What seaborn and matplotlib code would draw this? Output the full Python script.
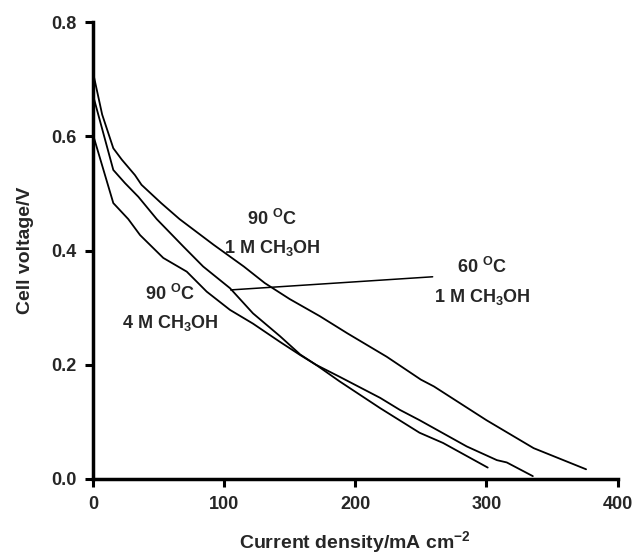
import numpy as np
import pandas as pd
import matplotlib
matplotlib.use("Agg")
import matplotlib.pyplot as plt
import seaborn as sns

# ── Data ────────────────────────────────────────────────────
# 90 °C, 1 M CH3OH (upper curve)
x_90_1m = [0, 7, 15.5, 22, 32, 37, 52, 66, 92, 115, 131, 150, 173, 194, 224, 250, 260, 300, 336, 376]
v_90_1m = [0.712, 0.638, 0.579, 0.559, 0.532, 0.515, 0.483, 0.455, 0.410, 0.372, 0.343, 0.315,
           0.285, 0.255, 0.214, 0.174, 0.162, 0.103, 0.054, 0.017]

# 60 °C, 1 M CH3OH (middle start, ends at 300)
x_60_1m = [0, 15.5, 24.4, 34.6, 48.6, 68.9, 84, 104.5, 122, 142.6, 158, 170, 188, 219, 249, 267, 301]
v_60_1m = [0.672, 0.541, 0.518, 0.494, 0.455, 0.407, 0.372, 0.334, 0.290, 0.250, 0.218, 0.200,
           0.171, 0.124, 0.081, 0.063, 0.020]

# 90 °C, 4 M CH3OH (lowest start, ends at 335)
x_90_4m = [0, 15.5, 26.9, 35.9, 53.6, 71.5, 86.7, 104.5, 122, 142.6, 158, 170, 188, 219, 234, 249,
           285, 308, 315.5, 335.4]
v_90_4m = [0.603, 0.483, 0.455, 0.427, 0.387, 0.363, 0.328, 0.296, 0.272, 0.240, 0.217, 0.200,
           0.179, 0.142, 0.121, 0.103, 0.057, 0.033, 0.029, 0.005]

x_ticks = [0, 100, 200, 300, 400]
y_ticks = [0.0, 0.2, 0.4, 0.6, 0.8]

df = pd.concat([
    pd.DataFrame({'j': x_90_1m, 'v': v_90_1m, 'run': '90C 1M'}),
    pd.DataFrame({'j': x_60_1m, 'v': v_60_1m, 'run': '60C 1M'}),
    pd.DataFrame({'j': x_90_4m, 'v': v_90_4m, 'run': '90C 4M'}),
], ignore_index=True)

# ── Style ──────────────────────────────────────────────────
sns.set_style('ticks')
plt.rcParams['font.family'] = ['Liberation Sans', 'DejaVu Sans']
plt.rcParams['font.weight'] = 'bold'
plt.rcParams['axes.labelweight'] = 'bold'
plt.rcParams['mathtext.fontset'] = 'custom'
plt.rcParams['mathtext.rm'] = 'Liberation Sans:bold'
plt.rcParams['mathtext.it'] = 'Liberation Sans:bold'
plt.rcParams['mathtext.bf'] = 'Liberation Sans:bold'

fig = plt.figure(figsize=(6.36, 5.56), dpi=100)
ax = fig.add_axes([0.1462, 0.1385, 0.8248, 0.8219])

sns.lineplot(data=df, x='j', y='v', hue='run', units='run', estimator=None, sort=False,
             palette=['black'] * 3, linewidth=1.3, legend=False, ax=ax)

ax.set_xlim(0, 400)
ax.set_ylim(0, 0.8)
ax.set_xticks(x_ticks)
ax.set_yticks(y_ticks)
ax.set_xticklabels([str(t) for t in x_ticks])
ax.set_yticklabels([f'{t:.1f}' for t in y_ticks])
ax.tick_params(direction='out', length=6, width=2.2, labelsize=13, pad=6, color='black')
for s in ['left', 'bottom']:
    ax.spines[s].set_linewidth(2.5)
    ax.spines[s].set_color('black')
sns.despine(ax=ax)

ax.set_xlabel('Current density/mA cm$^{-2}$', fontsize=14, labelpad=12)
ax.set_ylabel('Cell voltage/V', fontsize=14, labelpad=12)

# ── Annotations ────────────────────────────────────────────
fs = 13
ax.text(136.5, 0.445, r'90 $^{\mathrm{O}}$C', ha='center', va='baseline', fontsize=fs)
ax.text(136.5, 0.395, r'1 M CH$_{3}$OH', ha='center', va='baseline', fontsize=fs)
ax.text(58.7, 0.313, r'90 $^{\mathrm{O}}$C', ha='center', va='baseline', fontsize=fs)
ax.text(58.7, 0.264, r'4 M CH$_{3}$OH', ha='center', va='baseline', fontsize=fs)
ax.text(297, 0.361, r'60 $^{\mathrm{O}}$C', ha='center', va='baseline', fontsize=fs)
ax.text(297, 0.310, r'1 M CH$_{3}$OH', ha='center', va='baseline', fontsize=fs)
ax.annotate('', xy=(105, 0.331), xytext=(259, 0.354),
            arrowprops=dict(arrowstyle='-', lw=1.1, color='black', shrinkA=0, shrinkB=0))

fig.savefig('out.png', dpi=100)
